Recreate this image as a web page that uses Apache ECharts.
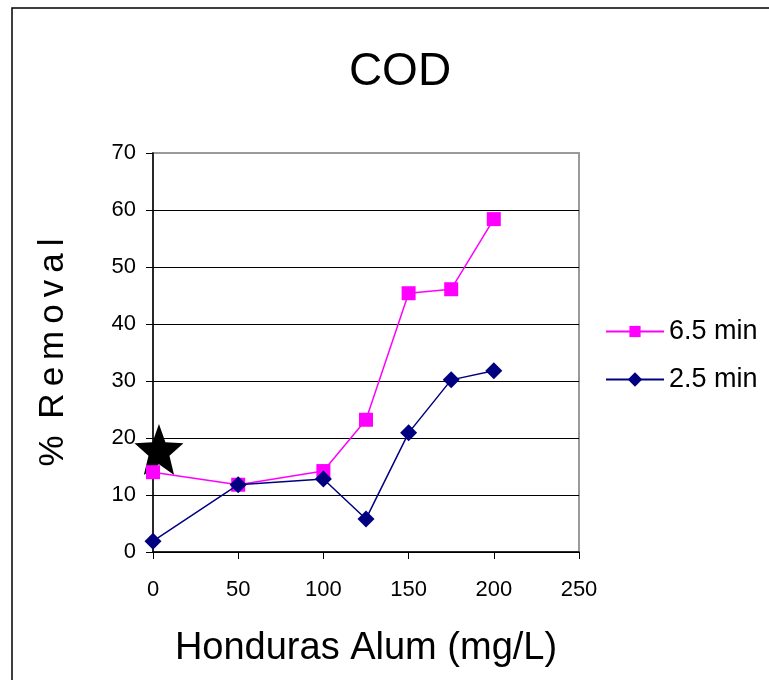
<!DOCTYPE html>
<html>
<head>
<meta charset="utf-8">
<script src="https://cdn.jsdelivr.net/npm/echarts@6/dist/echarts.min.js"></script>
<style>
  html, body { margin: 0; padding: 0; background: #fff; }
  #cod { width: 769px; height: 680px; }
</style>
</head>
<body>
<div id="cod"></div>
<script>
// Honduras Alum dose (mg/L)
var doses = [0, 50, 100, 125, 150, 175, 200]
// % removal
var removal65 = [14.0, 11.8, 14.2, 23.2, 45.4, 46.1, 58.4]
var removal25 = [1.9, 11.8, 12.8, 5.8, 20.9, 30.2, 31.8]
// reference point marked by the star
var starPoint = [3.5, 18.0]
var xTicks = [0, 50, 100, 150, 200, 250]
var yTicks = [0, 10, 20, 30, 40, 50, 60, 70]

var font = '"Liberation Sans", Arial, sans-serif'
// 5 point star, inner radius ~0.43 of outer
var starPath = 'path://M50,0 L62.6,32.6 L97.6,34.5 L70.4,56.6 L79.4,90.5 L50,71.5 L20.6,90.5 L29.6,56.6 L2.4,34.5 L37.4,32.6 Z'

function pairs(xs, ys) {
  return xs.map(function (x, i) { return [x, ys[i]] })
}

var myChart = echarts.init(document.getElementById('cod'))
myChart.setOption({
  animation: false,
  backgroundColor: '#fff',
  textStyle: { fontFamily: font },
  title: {
    text: 'COD',
    left: 395,
    top: 44,
    textAlign: 'center',
    textStyle: { fontSize: 46, fontWeight: 'normal', color: '#000', fontFamily: font }
  },
  graphic: [{
    type: 'rect',
    shape: { x: 12, y: 8, width: 800, height: 720 },
    style: { fill: null, stroke: '#000', lineWidth: 1.5 },
    silent: true
  }],
  legend: [{
    data: ['6.5 min'],
    left: 600,
    top: 313,
    itemWidth: 58,
    itemHeight: 14,
    textStyle: { fontSize: 27, color: '#000', fontFamily: font }
  }, {
    data: ['2.5 min'],
    left: 600,
    top: 361,
    itemWidth: 58,
    itemHeight: 18,
    textStyle: { fontSize: 27, color: '#000', fontFamily: font }
  }],
  grid: {
    left: 153,
    top: 153,
    width: 426,
    height: 399,
    show: true,
    borderColor: '#9a9a9a',
    borderWidth: 2
  },
  xAxis: {
    type: 'value',
    min: xTicks[0],
    max: xTicks[xTicks.length - 1],
    interval: 50,
    name: 'Honduras Alum (mg/L)',
    nameLocation: 'middle',
    nameGap: 78,
    nameTextStyle: { fontSize: 38, color: '#000', fontFamily: font },
    axisLine: { lineStyle: { color: '#000', width: 1.5 } },
    axisTick: { show: true, length: 7, lineStyle: { color: '#000' } },
    axisLabel: { fontSize: 22, color: '#000', margin: 27, fontFamily: font },
    splitLine: { show: false }
  },
  yAxis: {
    type: 'value',
    min: yTicks[0],
    max: yTicks[yTicks.length - 1],
    interval: 10,
    name: '%\u2009 R\u2009e\u2009m\u2009o\u2009v\u2009a\u2009l',
    nameLocation: 'middle',
    nameGap: 82,
    nameRotate: 90,
    nameTextStyle: { fontSize: 35, color: '#000', fontFamily: font },
    axisLine: { lineStyle: { color: '#000', width: 1.5 } },
    axisTick: { show: true, length: 7, lineStyle: { color: '#000' } },
    axisLabel: { fontSize: 22, color: '#000', margin: 17, fontFamily: font },
    splitLine: {
      show: true,
      lineStyle: { color: ['#000', '#000', '#000', '#000', '#000', '#000', '#000', '#9a9a9a'], width: 1.2 }
    }
  },
  series: [{
    name: 'star',
    type: 'scatter',
    data: [starPoint],
    symbol: starPath,
    symbolSize: [49, 51],
    clip: false,
    itemStyle: { color: '#000', opacity: 1 },
    z: 1
  }, {
    name: '6.5 min',
    type: 'line',
    data: pairs(doses, removal65),
    symbol: 'rect',
    symbolSize: 14,
    lineStyle: { color: '#ff00ff', width: 1.5 },
    itemStyle: { color: '#ff00ff' },
    z: 2
  }, {
    name: '2.5 min',
    type: 'line',
    data: pairs(doses, removal25),
    symbol: 'diamond',
    symbolSize: 17,
    lineStyle: { color: '#000080', width: 1.5 },
    itemStyle: { color: '#000080' },
    z: 3
  }]
})
</script>
</body>
</html>
